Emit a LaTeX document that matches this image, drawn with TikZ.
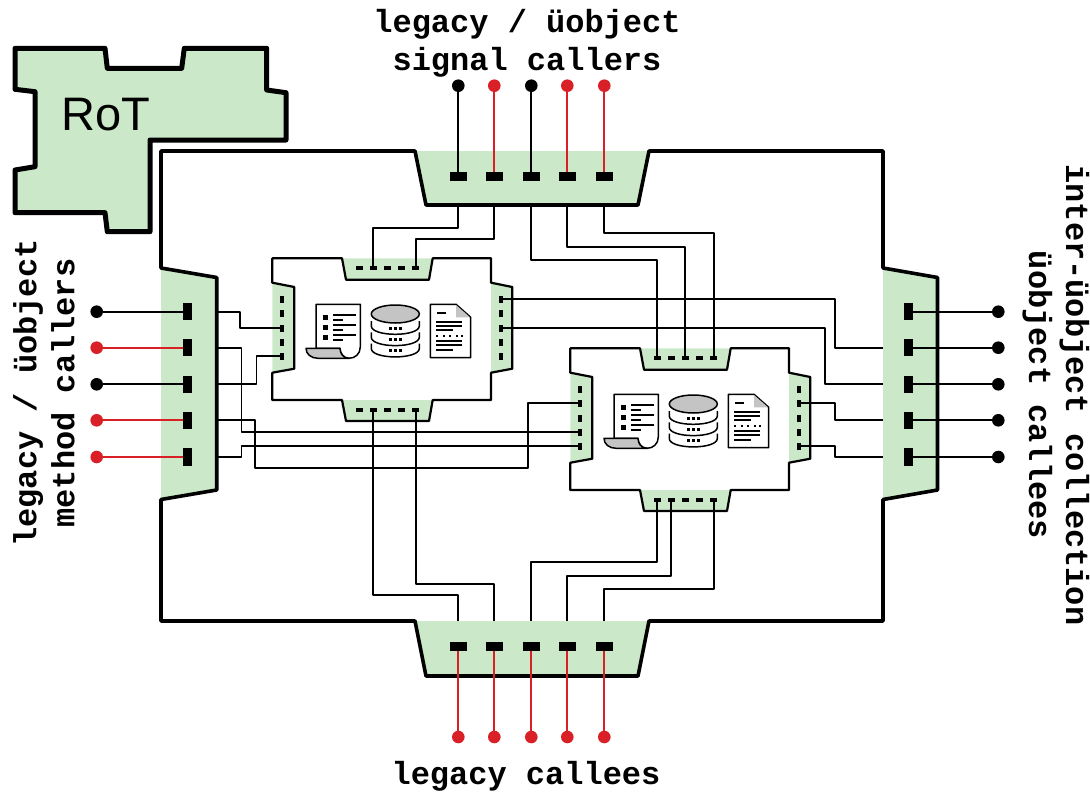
\documentclass[tikz,border=0pt]{standalone}
\usepackage{fontspec}
\setmainfont{Liberation Sans}
\setmonofont{Liberation Mono}
\usepackage{tikz}
\definecolor{portgreen}{HTML}{CBE9C9}
\definecolor{pinred}{HTML}{D92027}
\definecolor{icongray}{HTML}{C4C4C4}
\tikzset{
  outer/.style={line width=3.6pt, line join=round},
  inner/.style={line width=2.2pt, line join=round},
  wire/.style={line width=1.7pt, line join=round},
  pinline/.style={line width=2.2pt},
  icon/.style={line width=1.5pt, line join=round},
  stubh/.style={fill=black, inner sep=0pt, minimum width=17pt, minimum height=9pt},
  stubv/.style={fill=black, inner sep=0pt, minimum width=9pt, minimum height=17pt},
  smallh/.style={fill=black, inner sep=0pt, minimum width=7pt, minimum height=4pt},
  smallv/.style={fill=black, inner sep=0pt, minimum width=4pt, minimum height=7pt},
  enddot/.style={circle, inner sep=0pt, minimum size=12.6pt},
  caption/.style={font=\ttfamily\bfseries\fontsize{32}{38}\selectfont, align=center, inner sep=0pt},
}
\begin{document}
\begin{tikzpicture}[x=1pt,y=-1pt]
\useasboundingbox (0,0) rectangle (1090,792);
\draw[line width=5pt, line join=round, fill=portgreen]
  (15,48.3) -- (105,48.3) -- (107.3,68.3) -- (181.7,68.3) -- (184.3,48.3) -- (266.7,48.3)
  -- (266.7,90) -- (286,92.7) -- (286,140) -- (150,140) -- (150,231.7) -- (107.3,231.7)
  -- (105,212.7) -- (15,212.7) -- (15,170) -- (35,166.7) -- (35,91.7) -- (15,89.3) -- cycle;
\node[font=\fontsize{47}{47}\selectfont, inner sep=0pt] (rot) at (106,115) {RoT};
% the two inner modules
\foreach \m/\dx/\dy in {a/0/0, b/298/90} {
\begin{scope}[shift={(\dx,\dy)}]
\fill[portgreen] (342,258.3) -- (346,279.7) -- (429,279.7) -- (432.7,258.3) -- cycle;
\fill[portgreen] (342,400) -- (346,421) -- (429,421) -- (432.7,400) -- cycle;
\fill[portgreen] (272.3,282.7) -- (294.3,287) -- (294.3,368.7) -- (272.3,372.7) -- cycle;
\fill[portgreen] (491,282.7) -- (512.3,287) -- (512.3,368.7) -- (491,372.7) -- cycle;
\draw[inner] (272.3,258.3) -- (342,258.3) -- (346,279.7) -- (429,279.7) -- (432.7,258.3)
  -- (491,258.3) -- (491,282.7) -- (512.3,287) -- (512.3,368.7) -- (491,372.7) -- (491,400)
  -- (432.7,400) -- (429,421) -- (346,421) -- (342,400) -- (272.3,400) -- (272.3,372.7)
  -- (294.3,368.7) -- (294.3,287) -- (272.3,282.7) -- cycle;
\foreach \i/\x in {1/359.3, 2/373.3, 3/387.3, 4/401.7, 5/415.7} {
  \node[smallh] (\m t\i) at (\x,268) {};
  \node[smallh] (\m d\i) at (\x,410) {};
}
\foreach \i/\y in {1/299.3, 2/313.3, 3/328, 4/342.3, 5/356.3} {
  \node[smallv] (\m l\i) at (282,\y) {};
  \node[smallv] (\m r\i) at (501,\y) {};
}
% scroll
\draw[icon, fill=white] (316,304.3) -- (360.3,304.3) -- (360.3,347) .. controls (360.3,354) and (355,358.3) .. (349,358.3)
  .. controls (343,358.3) and (340,353) .. (340,348.3) -- (316,348.3) -- cycle;
\draw[icon, fill=icongray] (306,348.3) -- (340,348.3) .. controls (340,353) and (343,358.3) .. (349,358.3)
  -- (318,358.3) .. controls (311,358.3) and (306,354) .. (306,348.3) -- cycle;
\foreach \y in {0,10,20} {
  \fill (323.2,314.8+\y) rectangle (328.2,319.8+\y);
  \fill (333,314+\y) rectangle (356,316+\y);
  \fill (333,318.7+\y) rectangle (343,320.7+\y);
}
% database
\foreach \y in {0,11.3,22.6} {
  \draw[icon] (371.3,321+\y) -- (371.3,326+\y) .. controls (371.3,331+\y) and (382,334.3+\y) .. (395.3,334.3+\y)
    .. controls (408.6,334.3+\y) and (419.3,331+\y) .. (419.3,326+\y) -- (419.3,321+\y);
  \foreach \x in {390,395.3,400.6}
    \fill (\x-1.5,326.8+\y) rectangle (\x+1.5,329.8+\y);
}
\draw[icon, fill=icongray] (395.3,314) ellipse [x radius=24, y radius=9];
% document
\draw[icon, fill=white] (430.3,304.3) -- (456,304.3) -- (470.7,317.3) -- (470.7,357.7) -- (430.3,357.7) -- cycle;
\fill[icongray] (456,305) -- (456,317.3) -- (470,317.3) -- cycle;
\fill (437,312) rectangle (446,314);
\foreach \y/\e in {322/462, 326/462, 330/453, 341/462, 345.3/462, 350/453}
  \fill (436,\y-1) rectangle (\e,\y+1);
\foreach \x in {437,443.5,450,456.5,462}
  \fill (\x-1,335) rectangle (\x+1,337);
\end{scope}
}
% outer stubs, drawn later over the wires
\path[fill=none]
  (458.3,176.3) node[stubh] (t1) {} (494.3,176.3) node[stubh] (t2) {}
  (531.3,176.3) node[stubh] (t3) {} (567.3,176.3) node[stubh] (t4) {}
  (604.3,176.3) node[stubh] (t5) {}
  (458.3,646.7) node[stubh] (d1) {} (494.3,646.7) node[stubh] (d2) {}
  (531.3,646.7) node[stubh] (d3) {} (567.3,646.7) node[stubh] (d4) {}
  (604.3,646.7) node[stubh] (d5) {}
  (187.5,311.7) node[stubv] (l1) {} (187.5,347.7) node[stubv] (l2) {}
  (187.5,384.3) node[stubv] (l3) {} (187.5,420.3) node[stubv] (l4) {}
  (187.5,457) node[stubv] (l5) {}
  (908.3,311.7) node[stubv] (r1) {} (908.3,347.7) node[stubv] (r2) {}
  (908.3,384.3) node[stubv] (r3) {} (908.3,420.3) node[stubv] (r4) {}
  (908.3,457) node[stubv] (r5) {};
% wires
\draw[wire] (t1) -- ++(0,52) -| (at2);
\draw[wire] (t2) -- ++(0,63) -| (at5);
\draw[wire] (t3) -- ++(0,84) -| (bt1);
\draw[wire] (t4) -- ++(0,70.4) -| (bt3);
\draw[wire] (t5) -- ++(0,57) -| (bt5);
\draw[wire] (d1) -- ++(0,-52) -| (ad2);
\draw[wire] (d2) -- ++(0,-63) -| (ad5);
\draw[wire] (d3) -- ++(0,-84.4) -| (bd1);
\draw[wire] (d4) -- ++(0,-70.4) -| (bd2);
\draw[wire] (d5) -- ++(0,-57.7) -| (bd5);
\draw[wire] (l1) -- ++(52.5,0) |- (al3);
\draw[wire] (l2) -- ++(54,0) |- (bl4);
\draw[wire] (l3) -- ++(69,0) |- (al5);
\draw[wire] (l4) -- ++(67.5,0) -- ++(0,48) -- ++(273,0) |- (bl2);
\draw[wire] (l5) -- ++(54,0) |- (bl5);
\draw[wire] (ar1) -- ++(334,0) |- (r2);
\draw[wire] (ar3) -- ++(324,0) |- (r3);
\draw[wire] (br2) -- ++(36,0) |- (r4);
\draw[wire] (br5) -- ++(36,0) |- (r5);
% outer box
\fill[portgreen] (415,151) -- (426,205) -- (638,205) -- (649,151) -- cycle;
\fill[portgreen] (415,621) -- (426,676) -- (638,676) -- (649,621) -- cycle;
\fill[portgreen] (161,268) -- (216.7,277.5) -- (216.7,490) -- (161,499.5) -- cycle;
\fill[portgreen] (883,268) -- (937.5,277.5) -- (937.5,490) -- (883,499.5) -- cycle;
\draw[outer] (161,151) -- (415,151) -- (426,205) -- (638,205) -- (649,151) -- (883,151) -- (883,268)
  -- (937.5,277.5) -- (937.5,490) -- (883,499.5) -- (883,621) -- (649,621) -- (638,676) -- (426,676)
  -- (415,621) -- (161,621) -- (161,499.5) -- (216.7,490) -- (216.7,277.5) -- (161,268) -- cycle;
\foreach \n in {t1,t2,t3,t4,t5} \fill (\n.south west) rectangle (\n.north east);
\foreach \n in {d1,d2,d3,d4,d5} \fill (\n.south west) rectangle (\n.north east);
\foreach \n in {l1,l2,l3,l4,l5} \fill (\n.south west) rectangle (\n.north east);
\foreach \n in {r1,r2,r3,r4,r5} \fill (\n.south west) rectangle (\n.north east);
% pins
\foreach \i/\x/\c in {1/458.3/black, 2/494.3/pinred, 3/531.3/black, 4/567.3/pinred, 5/604.3/pinred} {
  \node[enddot, fill=\c] (tp\i) at (\x,85.7) {};
  \draw[pinline, \c] (tp\i) -- (t\i);
}
\foreach \i/\x in {1/458.3, 2/494.3, 3/531.3, 4/567.3, 5/604.3} {
  \node[enddot, fill=pinred] (dp\i) at (\x,737) {};
  \draw[pinline, pinred] (dp\i) -- (d\i);
}
\foreach \i/\y/\c in {1/311.7/black, 2/347.7/pinred, 3/384.3/black, 4/420.3/pinred, 5/457/pinred} {
  \node[enddot, fill=\c] (lp\i) at (96.7,\y) {};
  \draw[pinline, \c] (lp\i) -- (l\i);
}
\foreach \i/\y in {1/311.7, 2/347.7, 3/384.3, 4/420.3, 5/457} {
  \node[enddot, fill=black] (rp\i) at (998.3,\y) {};
  \draw[pinline] (rp\i) -- (r\i);
}
% labels
\node[caption] (toplabel) at (527,43) {legacy / üobject\\signal callers};
\node[caption] (bottomlabel) at (526,776.5) {legacy callees};
\node[caption, rotate=90] (leftlabel) at (44,393) {legacy / üobject\\method callers};
\node[caption, rotate=-90, font=\ttfamily\bfseries\fontsize{32}{37}\selectfont] (rightlabel) at (1056,395) {inter-üobject collection\\üobject callees};
\end{tikzpicture}
\end{document}
